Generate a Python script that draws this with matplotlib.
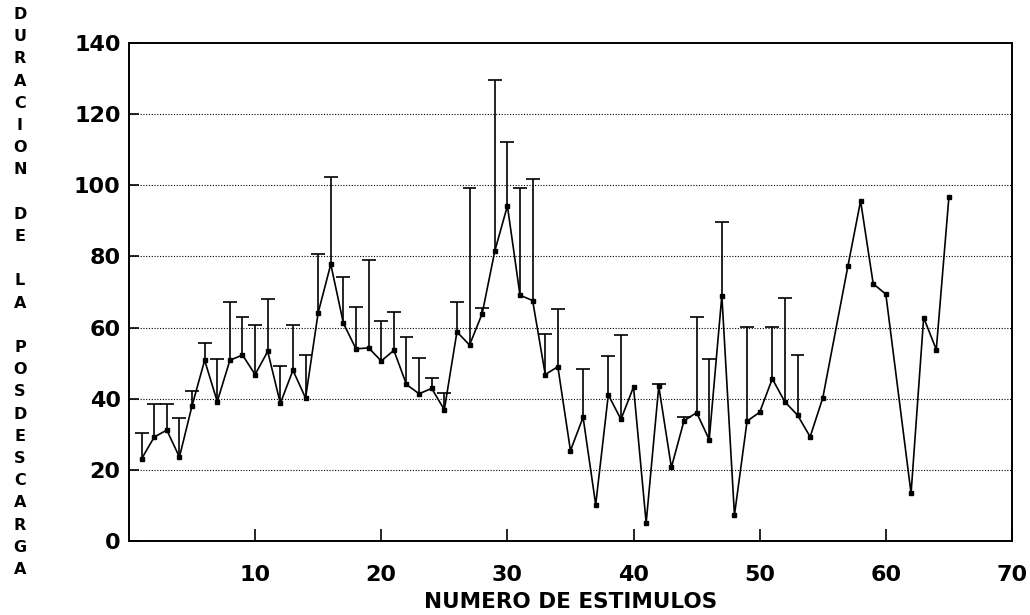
import numpy as np
import matplotlib.pyplot as plt

# numero de estimulo (faltan el 56 y el 61)
estimulo = list(range(1, 56)) + [57, 58, 59, 60, 62, 63, 64, 65]

duracion = [23.1, 29.2, 31.2, 23.6, 38.0, 50.8, 39.2, 50.8, 52.3, 46.8,
            53.3, 38.7, 48.0, 40.2, 64.2, 77.8, 61.2, 54.0, 54.3, 50.6,
            53.6, 44.0, 41.4, 42.9, 36.9, 58.8, 55.1, 63.9, 81.5, 94.2,
            69.1, 67.6, 46.8, 49.0, 25.4, 34.8, 10.2, 41.1, 34.2, 43.3,
            5.1, 43.5, 20.7, 33.8, 36.1, 28.5, 69.0, 7.3, 33.7, 36.2,
            45.6, 39.1, 35.4, 29.3, 40.2,
            77.4, 95.6, 72.3, 69.4, 13.4, 62.8, 53.8, 96.7]

# extremo superior de la barra de error (nan = sin barra)
nan = np.nan
tope = [30.5, 38.4, 38.4, 34.5, 42.3, 55.8, 51.3, 67.1, 63.1, 60.6,
        67.9, 49.3, 60.8, 52.3, 80.8, 102.4, 74.3, 65.7, 79.0, 61.9,
        64.5, 57.3, 51.4, 45.9, 41.5, 67.3, 99.3, 65.6, 129.6, 112.3,
        99.3, 101.8, 58.3, 65.1, nan, 48.4, nan, 52.0, 58.0, nan,
        nan, 44.0, nan, 34.8, 63.0, 51.3, 89.6, nan, 60.1, nan,
        60.1, 68.2, 52.3, nan, nan,
        nan, nan, nan, nan, nan, nan, nan, nan]

x = np.array(estimulo, dtype=float)
y = np.array(duracion)
t = np.array(tope)
ok = ~np.isnan(t)

fig = plt.figure(figsize=(10.3, 6.15), dpi=100)
ax = fig.add_axes([0.1252, 0.1203, 0.8573, 0.8098])

# barras solo hacia arriba, con su tope
ax.vlines(x[ok], y[ok], t[ok], color='k', lw=1.2)
ax.hlines(t[ok], x[ok] - 0.55, x[ok] + 0.55, color='k', lw=1.2)
ax.plot(x, y, color='k', lw=1.2, marker='s', ms=3.2)

ax.set_xlim(0, 70)
ax.set_ylim(0, 140)
ax.set_xticks([10, 20, 30, 40, 50, 60, 70])
ax.set_yticks(range(0, 141, 20))
for g in range(20, 140, 20):
    ax.axhline(g, color='k', lw=0.8, ls=(0, (1, 1.5)), zorder=0)

ax.tick_params(axis='x', direction='in', length=9, width=1.2, pad=17, labelsize=16)
ax.tick_params(axis='y', direction='in', length=7, width=1.2, pad=6, labelsize=16)
for lab in ax.get_xticklabels() + ax.get_yticklabels():
    lab.set_fontweight('bold')
for s in ax.spines.values():
    s.set_linewidth(1.4)

ax.set_xlabel('NUMERO DE ESTIMULOS', fontsize=15.5, fontweight='bold', labelpad=5)

etiqueta = 'DURACION DE LA POSDESCARGA'
fig.text(20 / 1030, 1 - 292 / 615, '\n'.join(etiqueta),
         ha='center', va='center', fontsize=11.5, fontweight='bold',
         linespacing=1.6)

fig.savefig('out.png', dpi=100)
